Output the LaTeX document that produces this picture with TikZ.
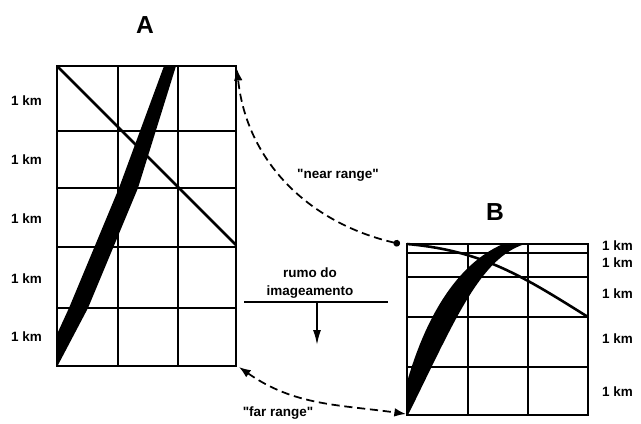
\documentclass[tikz,border=0pt]{standalone}
\usepackage{fontspec}
\setmainfont{Liberation Sans}
\usetikzlibrary{arrows.meta}
\tikzset{
    gridline/.style={line width=1.5pt, line cap=rect},
    trackline/.style={line width=2.2pt},
    kmlabel/.style={font=\fontsize{11.5}{15}\selectfont\bfseries, inner sep=0pt},
    panel/.style={font=\fontsize{21}{22}\selectfont\bfseries, inner sep=0pt},
    rangeflow/.style={line width=1.5pt, dash pattern=on 7pt off 4pt},
    headtip/.style={-{Latex[length=3mm,width=2.2mm]}}
}
\begin{document}
\begin{tikzpicture}[x=0.03cm,y=-0.03cm]
        \useasboundingbox (0,0) rectangle (641,424);
        % grade A
        \node[panel] at (145,25) (titleA) {A};
        \draw[gridline] (57,66) rectangle (236,366);
        \draw[gridline] (118,66) -- (118,366);
        \draw[gridline] (178,66) -- (178,366);
        \draw[gridline] (57,131) -- (236,131);
        \draw[gridline] (57,188) -- (236,188);
        \draw[gridline] (57,247) -- (236,247);
        \draw[gridline] (57,308) -- (236,308);
        \fill (58,365) -- (88,308) -- (138,188) -- (176,66) -- (164,66) -- (119,188) -- (69,308) -- (58,332) -- cycle;
        \draw[trackline] (57,66) -- (236,245);
        \node[kmlabel,anchor=west] at (11,101) (kmA1) {1 km};
        \node[kmlabel,anchor=west] at (11,160) (kmA2) {1 km};
        \node[kmlabel,anchor=west] at (11,219) (kmA3) {1 km};
        \node[kmlabel,anchor=west] at (11,279) (kmA4) {1 km};
        \node[kmlabel,anchor=west] at (11,337) (kmA5) {1 km};
        % grade B
        \node[panel] at (495,212) (titleB) {B};
        \draw[gridline] (407,244) rectangle (588,415);
        \draw[gridline] (468,244) -- (468,415);
        \draw[gridline] (528,244) -- (528,415);
        \draw[gridline] (407,253) -- (588,253);
        \draw[gridline] (407,277) -- (588,277);
        \draw[gridline] (407,317) -- (588,317);
        \draw[gridline] (407,367) -- (588,367);
        \fill (407,382) .. controls (425,320) and (455,265) .. (503,244) -- (525,244)
            .. controls (480,258) and (455,320) .. (408,415) -- (407,415) -- cycle;
        \draw[trackline] (407,244) to[out=-5,in=148] (588,317);
        \node[kmlabel,anchor=west] at (602,246) (kmB1) {1 km};
        \node[kmlabel,anchor=west] at (602,263) (kmB2) {1 km};
        \node[kmlabel,anchor=west] at (602,294) (kmB3) {1 km};
        \node[kmlabel,anchor=west] at (602,339) (kmB4) {1 km};
        \node[kmlabel,anchor=west] at (602,392) (kmB5) {1 km};
        % rumo do imageamento
        \node[kmlabel,align=center] at (310,283) (rumo) {rumo do\\imageamento};
        \coordinate (rumoW) at (245,302);
        \coordinate (rumoE) at (387,302);
        \coordinate (rumoTop) at (317,302);
        \coordinate (rumoTip) at (317,345);
        \draw[gridline] (rumoW) -- (rumoE);
        \draw[gridline,-{Latex[length=4.5mm,width=2.4mm]}] (rumoTop) -- (rumoTip);
        % near / far range
        \coordinate (nearA) at (237,69);
        \coordinate (nearB) at (400,244);
        \coordinate (farA) at (239,367);
        \coordinate (farB) at (406,414);
        \draw[rangeflow,{Circle[length=2mm]}-{Latex[length=3.5mm,width=2.6mm]}] (nearB) to[out=167,in=-84] (nearA);
        \draw[rangeflow,{Latex[length=3.5mm,width=2.6mm]}-{Latex[length=3.5mm,width=2.6mm]}] (farA) to[out=-35,in=172] (farB);
        \node[kmlabel] at (338,175) (nearlbl) {\textquotedbl near range\textquotedbl};
        \node[kmlabel] at (278,413) (farlbl) {\textquotedbl far range\textquotedbl};
    \end{tikzpicture}
\end{document}
